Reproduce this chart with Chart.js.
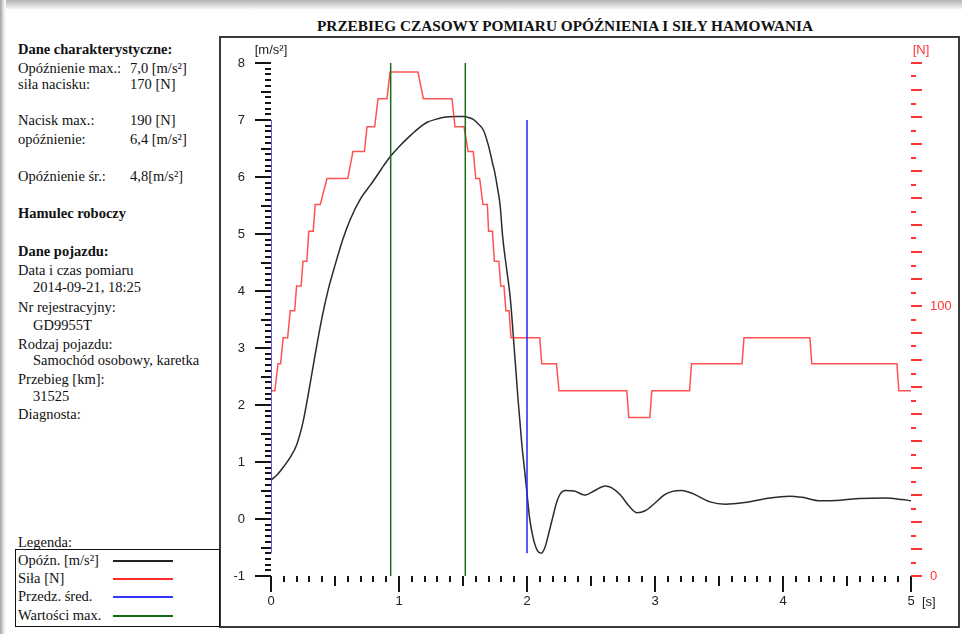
<!DOCTYPE html>
<html>
<head>
<meta charset="utf-8">
<script src="https://cdn.jsdelivr.net/npm/chart.js@4.4.1/dist/chart.umd.min.js"></script>
<style>
  body { margin: 0; width: 962px; height: 634px; position: relative; overflow: hidden; background: #fff; }
  #shadowTop { position: absolute; left: 0; top: 0; width: 962px; height: 10px; background: linear-gradient(#b4b4b4, #dcdcdc 60%, #fff); }
  #shadowLeft { position: absolute; left: 0; top: 0; width: 6px; height: 634px; background: linear-gradient(to right, #a0a0a0, #e6e6e6 60%, #fff); }
  #title { position: absolute; left: 317px; top: 17px; font: bold 15.3px "Liberation Serif", serif; color: #111; white-space: nowrap; }
  #box { position: absolute; left: 219px; top: 36px; width: 741px; height: 592px; border: 2px solid #3a3a3a; box-sizing: border-box; }
  .t { position: absolute; font: 14.5px "Liberation Serif", serif; color: #111; line-height: 16px; white-space: nowrap; }
  .b { font-weight: bold; }
  #legend { position: absolute; left: 15px; top: 549px; width: 205px; height: 78px; border: 1px solid #111; box-sizing: border-box; }
  .ll { position: absolute; left: 113px; width: 60px; height: 2px; }
  canvas { position: absolute; left: 0; top: 0; }
</style>
</head>
<body>
<div id="shadowTop"></div>
<div id="shadowLeft"></div>
<div id="title">PRZEBIEG CZASOWY POMIARU OPÓŹNIENIA I SIŁY HAMOWANIA</div>
<div id="box"></div>

<div class="t b" style="left:18px;top:41px">Dane charakterystyczne:</div>
<div class="t" style="left:18px;top:60px">Opóźnienie max.:</div><div class="t" style="left:130px;top:60px">7,0 [m/s²]</div>
<div class="t" style="left:18px;top:76px">siła nacisku:</div><div class="t" style="left:130px;top:76px">170 [N]</div>
<div class="t" style="left:18px;top:112px">Nacisk max.:</div><div class="t" style="left:130px;top:112px">190 [N]</div>
<div class="t" style="left:18px;top:131px">opóźnienie:</div><div class="t" style="left:130px;top:131px">6,4 [m/s²]</div>
<div class="t" style="left:18px;top:168px">Opóźnienie śr.:</div><div class="t" style="left:130px;top:168px">4,8[m/s²]</div>
<div class="t b" style="left:18px;top:205px">Hamulec roboczy</div>
<div class="t b" style="left:18px;top:243px">Dane pojazdu:</div>
<div class="t" style="left:18px;top:262px">Data i czas pomiaru</div>
<div class="t" style="left:33px;top:279px">2014-09-21, 18:25</div>
<div class="t" style="left:18px;top:299px">Nr rejestracyjny:</div>
<div class="t" style="left:33px;top:317px">GD9955T</div>
<div class="t" style="left:18px;top:336px">Rodzaj pojazdu:</div>
<div class="t" style="left:33px;top:352px">Samochód osobowy, karetka</div>
<div class="t" style="left:18px;top:371px">Przebieg [km]:</div>
<div class="t" style="left:33px;top:388px">31525</div>
<div class="t" style="left:18px;top:406px">Diagnosta:</div>

<div class="t" style="left:18px;top:534px">Legenda:</div>
<div id="legend"></div>
<div class="t" style="left:18px;top:552px">Opóźn. [m/s²]</div><div class="ll" style="top:560px;background:#222"></div>
<div class="t" style="left:18px;top:570px">Siła [N]</div><div class="ll" style="top:578px;background:#ff2a2a"></div>
<div class="t" style="left:18px;top:588px">Przedz. śred.</div><div class="ll" style="top:596px;background:#3535ff"></div>
<div class="t" style="left:18px;top:607px">Wartości max.</div><div class="ll" style="top:615px;background:#106a10"></div>

<canvas id="chart" width="962" height="634"></canvas>

<script>
// deceleration curve [s] / [m/s2]
const decelT = [0.00, 0.05, 0.10, 0.15, 0.20, 0.25, 0.30, 0.35, 0.40, 0.45, 0.50, 0.56, 0.62, 0.70, 0.78, 0.83, 0.88, 0.935,
  1.00, 1.09, 1.15, 1.22, 1.30, 1.35, 1.45, 1.50, 1.55, 1.58, 1.62, 1.66, 1.69, 1.71, 1.73, 1.75, 1.77, 1.79, 1.81,
  1.84, 1.87, 1.90, 1.93, 1.96, 1.98, 2.00, 2.02, 2.05, 2.08, 2.11, 2.14, 2.17, 2.20, 2.23, 2.26, 2.30, 2.37, 2.45,
  2.53, 2.61, 2.66, 2.73, 2.80, 2.86, 2.92, 3.00, 3.07, 3.13, 3.21, 3.30, 3.43, 3.55, 3.70, 3.90, 4.05, 4.15, 4.29,
  4.45, 4.60, 4.80, 4.93, 5.00];
const decelV = [0.68, 0.78, 0.92, 1.08, 1.30, 1.70, 2.30, 2.95, 3.55, 4.05, 4.45, 4.90, 5.26, 5.62, 5.87, 6.03, 6.20, 6.37,
  6.53, 6.73, 6.85, 6.96, 7.02, 7.05, 7.06, 7.06, 7.04, 7.01, 6.93, 6.82, 6.62, 6.45, 6.25, 6.06, 5.80, 5.50, 4.95,
  4.40, 3.86, 3.00, 2.10, 1.30, 0.88, 0.45, 0.02, -0.35, -0.55, -0.60, -0.50, -0.25, 0.02, 0.28, 0.44, 0.50, 0.49, 0.42,
  0.50, 0.58, 0.55, 0.42, 0.22, 0.11, 0.14, 0.28, 0.42, 0.48, 0.50, 0.44, 0.30, 0.26, 0.29, 0.37, 0.40, 0.38, 0.32,
  0.33, 0.36, 0.37, 0.34, 0.32];

// pedal force [s] / [N]
const forceT = [0.00, 0.03, 0.055, 0.075, 0.095, 0.13, 0.15, 0.185, 0.20, 0.235, 0.25, 0.28, 0.295, 0.33, 0.345, 0.385,
  0.4375, 0.60, 0.64, 0.73, 0.75, 0.81, 0.836, 0.906, 0.93, 1.148, 1.19, 1.414, 1.4375, 1.508, 1.54, 1.58, 1.60, 1.63,
  1.656, 1.69, 1.70, 1.73, 1.745, 1.78, 1.795, 1.82, 1.835, 1.86, 1.875, 2.10, 2.115, 2.23, 2.25, 2.78, 2.795, 2.96,
  2.975, 3.27, 3.285, 3.68, 3.695, 4.21, 4.225, 4.89, 4.905, 5.00];
const forceN = [68.6, 68.6, 78.6, 78.6, 88.2, 88.2, 98.2, 98.2, 107.4, 107.4, 116.6, 116.6, 127.7, 127.7, 137.6, 137.6,
  147.2, 147.2, 157.2, 157.2, 166.4, 166.4, 176.8, 176.8, 186.7, 186.7, 176.8, 176.8, 166.4, 166.4, 157.2, 157.2, 147.2, 147.2,
  137.6, 137.6, 127.7, 127.7, 116.6, 116.6, 107.4, 107.4, 98.2, 98.2, 88.2, 88.2, 78.6, 78.6, 68.6, 68.6, 58.7, 58.7,
  68.6, 68.6, 78.6, 78.6, 88.2, 88.2, 78.6, 78.6, 68.6, 68.6];

// averaging interval (blue) and max value markers (green)
const avgT = [0, 2];
const avgRange = [7.0, -0.6];
const maxT = [0.935, 1.518];
const maxRange = [8, -1];

const xTicks = [0, 1, 2, 3, 4, 5];
const yTicks = [-1, 0, 1, 2, 3, 4, 5, 6, 7, 8];
const y2Ticks = [0, 100];

const pts = (xs, ys) => xs.map((x, i) => ({ x, y: ys[i] }));
const vlines = (xs, range) => {
    const out = [];
    xs.forEach((x, i) => {
        if (i > 0) out.push({ x, y: null });
        out.push({ x, y: range[0] }, { x, y: range[1] });
    });
    return out;
};
const near = (v, list) => list.some(t => Math.abs(v - t) < 1e-6);
const whole = (v, step) => Math.abs(v / step - Math.round(v / step)) < 1e-6;

// tick marks of different lengths + unit labels
const axisMarks = {
    id: 'axisMarks',
    afterDraw(chart) {
        const { ctx, chartArea: a, scales } = chart;
        const { x, y, y2 } = scales;
        ctx.save();
        ctx.lineWidth = 2;
        ctx.strokeStyle = '#151515';
        ctx.beginPath();
        y.ticks.forEach(t => {
            const py = Math.round(y.getPixelForValue(t.value));
            const len = whole(t.value, 1) ? 16 : whole(t.value, 0.5) ? 10 : 6;
            ctx.moveTo(a.left - len, py);
            ctx.lineTo(a.left, py);
        });
        x.ticks.forEach(t => {
            const px = Math.round(x.getPixelForValue(t.value));
            const len = whole(t.value, 1) ? 16 : whole(t.value, 0.5) ? 10 : 6;
            ctx.moveTo(px, a.bottom);
            ctx.lineTo(px, a.bottom + len);
        });
        ctx.stroke();

        ctx.strokeStyle = '#ff3333';
        ctx.beginPath();
        y2.ticks.forEach(t => {
            const py = Math.round(y2.getPixelForValue(t.value));
            const len = whole(t.value, 10) ? 11 : 5;
            ctx.moveTo(a.right, py);
            ctx.lineTo(a.right + len, py);
        });
        ctx.stroke();

        ctx.font = '13px "Liberation Sans", Arial, sans-serif';
        ctx.textBaseline = 'middle';
        ctx.textAlign = 'center';
        ctx.fillStyle = '#222';
        ctx.fillText('[m/s²]', a.left, a.top - 13);
        ctx.fillStyle = '#ff3333';
        ctx.fillText('[N]', a.right + 10, a.top - 13);
        ctx.fillStyle = '#222';
        ctx.textAlign = 'left';
        ctx.fillText('[s]', x.getPixelForValue(5) + 11, a.bottom + 26);
        ctx.restore();
    }
};

const tickFont = { family: '"Liberation Sans", Arial, sans-serif', size: 13 };

new Chart(document.getElementById('chart'), {
    type: 'line',
    data: {
        datasets: [
            { label: 'Przedz. śred.', data: vlines(avgT, avgRange), borderColor: '#2424ff', borderWidth: 1.5, spanGaps: false },
            { label: 'Wartości max.', data: vlines(maxT, maxRange), borderColor: '#1a6e1a', borderWidth: 1.5, spanGaps: false },
            { label: 'Siła [N]', data: pts(forceT, forceN), yAxisID: 'y2', borderColor: 'rgba(255, 40, 40, 0.8)', borderWidth: 1.5, tension: 0 },
            { label: 'Opóźn. [m/s²]', data: pts(decelT, decelV), borderColor: '#2b2b2b', borderWidth: 1.5, cubicInterpolationMode: 'monotone' }
        ]
    },
    options: {
        responsive: false,
        animation: false,
        devicePixelRatio: 1,
        elements: { point: { radius: 0 } },
        layout: { padding: { left: 220, top: 63, right: 11, bottom: 18 } },
        plugins: { legend: { display: false }, tooltip: { enabled: false } },
        scales: {
            x: {
                type: 'linear', min: 0, max: 5,
                grid: { display: false, drawTicks: false }, border: { display: false },
                ticks: { stepSize: 0.1, autoSkip: false, maxRotation: 0, padding: 18, font: tickFont, color: '#222',
                    callback: v => near(v, xTicks) ? String(Math.round(v)) : '' },
                afterFit: s => { s.height = 40; }
            },
            y: {
                type: 'linear', position: 'left', min: -1, max: 8,
                grid: { display: false, drawTicks: false }, border: { display: false },
                ticks: { stepSize: 0.1, autoSkip: false, padding: 26, font: tickFont, color: '#222',
                    callback: v => near(v, yTicks) ? String(Math.round(v)) : '' },
                afterFit: s => { s.width = 51; }
            },
            y2: {
                type: 'linear', position: 'right', min: 0, max: 190,
                grid: { display: false, drawTicks: false }, border: { display: false },
                ticks: { stepSize: 5, autoSkip: false, padding: 19, font: tickFont, color: '#ff3333',
                    callback: v => near(v, y2Ticks) ? String(Math.round(v)) : '' },
                afterFit: s => { s.width = 40; }
            }
        }
    },
    plugins: [axisMarks]
});
</script>
</body>
</html>
